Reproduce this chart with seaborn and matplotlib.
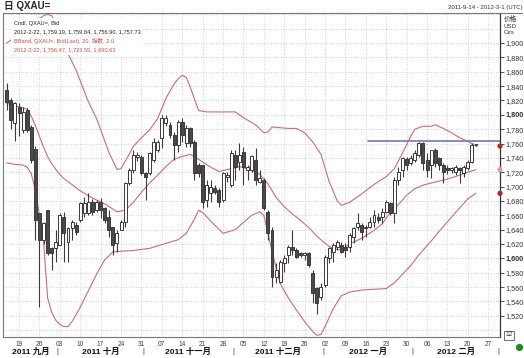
import numpy as np
import pandas as pd
import matplotlib
matplotlib.use("Agg")
import matplotlib.pyplot as plt
import seaborn as sns
from matplotlib.lines import Line2D
from matplotlib.patches import Rectangle

# ---------------- data ----------------
# trading-day index 0 = 2011-09-14 ... 115 = 2012-02-22
opens = [1834.5, 1820.0, 1788.0, 1811.0, 1779.0, 1806.7, 1783.5, 1753.0, 1662.8, 1625.6,
         1667.4, 1614.0, 1614.0, 1618.6, 1658.1, 1623.3, 1641.9, 1646.5, 1653.5, 1662.8,
         1662.8, 1679.0, 1667.4, 1679.0, 1669.7, 1658.1, 1644.2, 1621.0, 1639.5, 1651.2,
         1704.5, 1723.1, 1741.7, 1741.7, 1718.5, 1718.5, 1737.0, 1751.0, 1767.2, 1788.1,
         1785.8, 1771.9, 1757.9, 1790.4, 1760.3, 1781.1, 1762.6, 1730.1, 1730.1, 1681.3,
         1690.6, 1697.6, 1695.3, 1681.3, 1713.8, 1702.2, 1744.0, 1734.7, 1748.6, 1723.1,
         1723.1, 1737.0, 1706.9, 1709.2, 1665.1, 1639.5, 1574.0, 1567.6, 1593.1, 1604.7,
         1616.3, 1611.7, 1607.0, 1604.7, 1607.0, 1579.2, 1558.3, 1546.7, 1562.9, 1600.1,
         1609.4, 1616.3, 1618.6, 1616.3, 1616.3, 1630.2, 1644.2, 1646.5, 1641.9, 1644.2,
         1651.2, 1658.1, 1658.1, 1665.1, 1676.7, 1662.8, 1709.2, 1723.1, 1738.2, 1732.4,
         1737.0, 1744.0, 1760.3, 1737.0, 1730.1, 1751.0, 1739.4, 1730.1, 1725.4, 1723.1,
         1720.8, 1725.4, 1718.5, 1725.4, 1734.7, 1759.19]
highs = [1843.8, 1823.0, 1818.0, 1816.0, 1811.0, 1809.0, 1786.0, 1756.0, 1663.0, 1651.0,
         1667.4, 1616.0, 1639.5, 1662.8, 1665.1, 1644.2, 1653.5, 1651.0, 1679.0, 1686.0,
         1690.6, 1683.0, 1681.3, 1683.6, 1672.0, 1667.4, 1644.2, 1639.5, 1653.5, 1706.9,
         1725.4, 1751.0, 1748.6, 1744.0, 1720.8, 1748.6, 1767.2, 1765.0, 1799.7, 1800.0,
         1790.4, 1776.5, 1792.8, 1795.1, 1785.8, 1783.5, 1764.9, 1732.4, 1730.1, 1709.2,
         1709.2, 1702.0, 1697.6, 1720.8, 1720.8, 1751.0, 1751.0, 1760.3, 1755.6, 1730.1,
         1744.0, 1753.3, 1723.1, 1711.5, 1667.4, 1644.2, 1593.1, 1597.7, 1604.7, 1618.6,
         1639.5, 1614.0, 1609.4, 1609.4, 1609.4, 1583.8, 1560.6, 1565.2, 1604.7, 1616.3,
         1621.0, 1625.6, 1623.3, 1621.0, 1634.9, 1644.2, 1662.8, 1648.8, 1646.5, 1658.1,
         1667.4, 1662.8, 1669.7, 1681.3, 1679.0, 1713.8, 1727.8, 1741.7, 1741.7, 1744.0,
         1751.0, 1762.6, 1762.6, 1746.3, 1751.0, 1753.3, 1741.7, 1732.4, 1730.0, 1727.8,
         1730.1, 1727.8, 1730.1, 1737.0, 1760.3, 1759.84]
lows = [1806.7, 1780.0, 1763.0, 1770.0, 1774.0, 1776.0, 1732.4, 1625.0, 1532.7, 1620.0,
        1605.0, 1583.8, 1595.4, 1618.0, 1595.4, 1595.4, 1625.6, 1632.0, 1651.0, 1658.0,
        1660.0, 1660.0, 1665.0, 1655.8, 1649.0, 1630.2, 1604.7, 1609.4, 1639.5, 1644.2,
        1702.2, 1718.5, 1735.0, 1716.1, 1681.3, 1716.1, 1734.7, 1748.0, 1753.3, 1785.0,
        1768.0, 1737.0, 1748.6, 1762.6, 1755.6, 1755.6, 1709.2, 1713.8, 1669.7, 1672.0,
        1679.0, 1690.0, 1672.0, 1679.0, 1706.9, 1699.9, 1709.2, 1723.1, 1702.2, 1709.2,
        1720.8, 1702.2, 1704.5, 1667.4, 1625.6, 1560.6, 1565.2, 1565.2, 1581.5, 1593.1,
        1604.7, 1600.1, 1602.4, 1597.7, 1588.5, 1537.4, 1523.0, 1542.0, 1560.6, 1593.1,
        1595.4, 1612.0, 1607.0, 1602.4, 1609.4, 1621.0, 1639.5, 1625.6, 1630.2, 1641.9,
        1644.2, 1648.8, 1648.8, 1662.8, 1660.4, 1648.8, 1702.2, 1713.8, 1723.1, 1730.1,
        1734.7, 1741.7, 1723.1, 1713.8, 1711.5, 1727.8, 1723.1, 1704.5, 1718.0, 1718.5,
        1716.1, 1704.5, 1713.8, 1723.1, 1732.4, 1756.90]
closes = [1818.3, 1793.0, 1816.0, 1802.0, 1804.0, 1778.8, 1737.0, 1653.5, 1625.6, 1648.8,
          1607.0, 1607.0, 1623.3, 1660.4, 1634.9, 1641.9, 1651.2, 1637.2, 1676.7, 1676.7,
          1679.0, 1665.0, 1679.0, 1667.4, 1653.5, 1639.5, 1618.6, 1634.9, 1651.2, 1704.5,
          1723.1, 1744.0, 1744.0, 1718.5, 1713.8, 1746.3, 1762.6, 1762.6, 1795.1, 1795.1,
          1771.9, 1757.9, 1790.4, 1771.9, 1781.1, 1760.3, 1718.5, 1718.5, 1679.0, 1702.2,
          1699.9, 1692.9, 1679.0, 1718.5, 1716.1, 1746.3, 1727.8, 1744.0, 1727.8, 1727.8,
          1742.6, 1709.2, 1711.5, 1669.7, 1634.9, 1574.5, 1583.8, 1595.4, 1600.1, 1616.3,
          1611.7, 1602.4, 1604.7, 1607.0, 1590.8, 1551.3, 1537.4, 1560.6, 1602.4, 1614.0,
          1618.6, 1623.3, 1609.4, 1611.7, 1632.6, 1641.9, 1648.8, 1637.2, 1644.2, 1651.2,
          1660.4, 1653.5, 1665.1, 1679.0, 1662.8, 1709.2, 1720.8, 1739.4, 1730.1, 1739.4,
          1746.3, 1760.3, 1732.4, 1723.1, 1751.0, 1732.4, 1730.1, 1720.8, 1723.1, 1725.4,
          1727.8, 1723.1, 1727.8, 1734.7, 1757.9, 1757.73]

# Bollinger band (20, 2.0) readings: day index -> value
upper_day = [0, 3, 6, 9, 10, 11, 13, 15, 17, 20, 22, 25, 27, 28, 30, 31, 33, 35, 37, 39,
             41, 42, 43, 44, 45, 47, 49, 51, 53, 56, 58, 61, 63, 64, 65, 67, 69, 71, 73, 75,
             77, 79, 81, 82, 84, 87, 90, 93, 95, 97, 99, 100, 102, 104, 105, 107, 109, 111,
             113, 115]
upper_val = [1900, 1912, 1925, 1938, 1940, 1938, 1915, 1885, 1862, 1818, 1795, 1748, 1724,
             1725, 1745, 1756, 1768, 1779, 1795, 1823, 1843, 1850, 1855, 1852, 1838, 1806,
             1804, 1804, 1804, 1804, 1796, 1786, 1775, 1776, 1783, 1782, 1781, 1781, 1775,
             1762, 1745, 1707, 1680, 1674, 1678, 1690, 1703, 1714, 1725, 1747, 1770, 1780,
             1784, 1784, 1786, 1781, 1775, 1768, 1763, 1756.47]
middle_day = [0, 3, 5, 6, 7, 8, 9, 10, 11, 12, 13, 14, 15, 18, 21, 24, 27, 29, 31, 33, 35,
              37, 39, 41, 43, 45, 47, 50, 52, 55, 57, 60, 62, 64, 66, 68, 70, 72, 74, 76, 78,
              80, 82, 84, 87, 90, 92, 94, 96, 98, 100, 102, 104, 107, 110, 113, 115]
middle_val = [1816, 1811, 1808, 1798, 1785, 1770, 1755, 1742, 1732, 1724, 1717, 1711, 1707,
              1694, 1684, 1676, 1665, 1667, 1678, 1692, 1705, 1716, 1728, 1738, 1742, 1745,
              1738, 1727, 1721, 1725, 1728, 1723, 1717, 1704, 1685, 1672, 1662, 1653, 1643,
              1631, 1621, 1613, 1612, 1620, 1628, 1639, 1648, 1664, 1675, 1688, 1697, 1702,
              1705, 1709, 1714, 1720, 1723.55]
lower_day = [0, 2, 4, 5, 6, 7, 8, 9, 10, 11, 12, 13, 14, 15, 16, 17, 18, 20, 22, 24, 26,
             28, 31, 35, 39, 42, 44, 46, 47, 48, 50, 53, 56, 58, 60, 62, 63, 64, 65, 67, 69,
             71, 73, 75, 76, 77, 78, 80, 82, 84, 87, 90, 93, 95, 97, 99, 101, 104, 106, 108,
             110, 113, 115]
lower_val = [1733, 1731, 1730, 1727, 1718, 1695, 1660, 1625, 1545, 1525, 1514, 1508, 1505,
             1505, 1512, 1522, 1532, 1555, 1578, 1598, 1609, 1610, 1611, 1614, 1621, 1626,
             1635, 1655, 1667, 1664, 1652, 1635, 1640, 1650, 1660, 1665, 1660, 1635, 1610,
             1565, 1545, 1528, 1512, 1498, 1493, 1494, 1505, 1530, 1548, 1553, 1556, 1557,
             1558, 1566, 1578, 1590, 1605, 1624, 1638, 1651, 1664, 1683, 1690.63]

resistance_level = 1763.5
resistance_from_day = 88.5

week_days = [19, 26, 3, 10, 17, 24, 31, 7, 14, 21, 28, 5, 12, 19, 26, 2, 9, 16, 23, 30,
             6, 13, 20, 27]
month_labels = ["2011 九月", "2011 十月", "2011 十一月", "2011 十二月", "2012 一月", "2012 二月"]
price_ticks = list(range(1520, 1901, 20))

legend_lines = ["Cndl, QXAU=, Bid",
                "2012-2-22, 1,759.19, 1,759.84, 1,756.90, 1,757.73",
                "BBand, QXAU=, Bid(Last), 20, 指数, 2.0",
                "2012-2-22, 1,756.47, 1,723.55, 1,690.63"]

# ---------------- figure ----------------
sns.set_theme(style="white")
plt.rcParams["font.family"] = ["Liberation Sans", "Noto Sans CJK SC", "DejaVu Sans"]

W, H = 524, 358
fig = plt.figure(figsize=(W / 100, H / 100), dpi=100)
fig.patch.set_facecolor("white")

def fx(px):
    return px / W

def fy(py):
    return 1 - py / H

ax_left, ax_right, ax_top, ax_bot = 3, 500, 13, 337
ax = fig.add_axes([fx(ax_left), fy(ax_bot), fx(ax_right - ax_left), (ax_bot - ax_top) / H])
ax.set_facecolor("white")

dates = pd.bdate_range("2011-09-14", periods=len(closes))
n = len(closes)
idx = np.arange(n)

# x mapping: day i at pixel 6.8 + 4.08 i
x0_px, step_px = 6.8, 4.08
ax.set_xlim((ax_left - x0_px) / step_px, (ax_right - x0_px) / step_px)
# y mapping: value v at pixel 43 + (1900 - v) * 0.718
ppu = 0.718
ax.set_ylim(1900 - (ax_bot - 43) / ppu, 1900 + (43 - ax_top) / ppu)

grid_col = "#c4c4c4"
mondays = [3 + 5 * k for k in range(len(week_days))]
for m in mondays:
    ax.axvline(m, color=grid_col, lw=0.6, ls=(0, (1, 2)), zorder=0)
for v in range(1500, 1941, 20):
    ax.axhline(v, color=grid_col, lw=0.6, ls=(0, (1, 2)), zorder=0)

# Bollinger bands via seaborn
band_col = "#d46a6a"
sns.lineplot(x=upper_day, y=upper_val, ax=ax, color=band_col, lw=0.8, estimator=None, sort=False, zorder=2)
sns.lineplot(x=middle_day, y=middle_val, ax=ax, color=band_col, lw=0.8, estimator=None, sort=False, zorder=2)
sns.lineplot(x=lower_day, y=lower_val, ax=ax, color=band_col, lw=0.8, estimator=None, sort=False, zorder=2)

# candles
o = np.array(opens); h = np.array(highs); l = np.array(lows); c = np.array(closes)
up = c >= o
ax.vlines(idx, l, h, color="#3a3a3a", lw=0.8, zorder=3)
body_bottom = np.minimum(o, c)
body_h = np.maximum(np.abs(c - o), 0.8)
ax.bar(idx[up], body_h[up], bottom=body_bottom[up], width=0.72, color="white",
       edgecolor="#3a3a3a", linewidth=0.7, zorder=4)
ax.bar(idx[~up], body_h[~up], bottom=body_bottom[~up], width=0.72, color="#4a4a4a",
       edgecolor="#3a3a3a", linewidth=0.7, zorder=4)

# resistance line
xr = ax.get_xlim()[1]
ax.plot([resistance_from_day, xr], [resistance_level, resistance_level], color="#8080bb", lw=1.3, zorder=5)

# band value markers at axis
last_vals = [upper_val[-1], middle_val[-1], lower_val[-1]]
ax.scatter([xr] * 3, last_vals, s=14, c=["#c0202a", "#e89aa0", "#c0202a"], zorder=6, clip_on=False,
           edgecolors="none")

# axes styling
for s in ["left", "top", "bottom"]:
    ax.spines[s].set_color("#777777")
    ax.spines[s].set_linewidth(0.8)
ax.spines["right"].set_color("#333333")
ax.spines["right"].set_linewidth(0.9)

ax.yaxis.tick_right()
ax.set_yticks(price_ticks)
ax.set_yticklabels([f"{v:,}" for v in price_ticks], fontsize=5.2, color="#333333")
for lab, v in zip(ax.get_yticklabels(), price_ticks):
    if v in (1600, 1800):
        lab.set_fontweight("bold")
        lab.set_color("#000000")
ax.tick_params(axis="y", direction="out", length=3, width=0.6, pad=1, colors="#333333", right=True)

ax.set_xticks(mondays)
ax.set_xticklabels([f"{d:02d}" for d in week_days], fontsize=4.8, color="#444444")
ax.tick_params(axis="x", direction="out", length=0, pad=3)
ax.set_xlabel("")
ax.set_ylabel("")

# month labels and separators (bottom row at ~352 px)
month_starts = [0]
for i in range(1, n):
    if dates[i].month != dates[i - 1].month:
        month_starts.append(i)
bounds = [ax.get_xlim()[0]] + [s - 0.5 for s in month_starts[1:]] + [120.5]
month_y = fy(351.5)
for k, lab in enumerate(month_labels):
    mid = (bounds[k] + bounds[k + 1]) / 2
    ax.annotate(lab, xy=(mid, month_y), xycoords=("data", "figure fraction"),
                ha="center", va="center", fontsize=6.0, fontweight="bold",
                color="#111111", annotation_clip=False)
for b in bounds[1:]:
    ax.annotate("|", xy=(b, month_y), xycoords=("data", "figure fraction"),
                ha="center", va="center", fontsize=5.5, color="#333333", annotation_clip=False)

# legend block
ax.add_patch(Rectangle((fx(11), fy(55)), fx(132), (55 - 18) / H, transform=fig.transFigure,
                       facecolor="white", edgecolor="none", zorder=7))
ys = [23, 32, 41, 50]
cols = ["#222222", "#222222", "#e04848", "#e04848"]
for t, yy, cc in zip(legend_lines, ys, cols):
    fig.text(fx(14), fy(yy), t, fontsize=4.1, color=cc, va="center", ha="left", zorder=8)

# header
fig.text(fx(4), fy(6), "日 QXAU=", fontsize=7, fontweight="bold", va="center", ha="left")
fig.text(fx(522), fy(8), "2011-9-14 - 2012-3-1 (UTC)", fontsize=4.3, color="#333333",
         va="center", ha="right")
fig.text(fx(504), fy(19), "价格", fontsize=4.8, color="#333333", va="center", ha="left")
fig.text(fx(504), fy(26), "USD", fontsize=4.4, color="#333333", va="center", ha="left")
fig.text(fx(504), fy(33), "Ozs", fontsize=4.4, color="#333333", va="center", ha="left")
fig.add_artist(Line2D([fx(ax_right), fx(522)], [fy(ax_top), fy(ax_top)], color="#777777", lw=0.8))

# small box label and status dot
fig.text(fx(509), fy(335), "12", fontsize=4.8, color="#333333", va="center", ha="center",
         bbox=dict(boxstyle="square,pad=0.15", fc="white", ec="#555555", lw=0.6))
fig.add_artist(Line2D([fx(519)], [fy(347)], marker="o", markersize=4.2, color="#1f8a2a",
                      linestyle="none"))

fig.savefig("out.png", dpi=100, facecolor="white")
